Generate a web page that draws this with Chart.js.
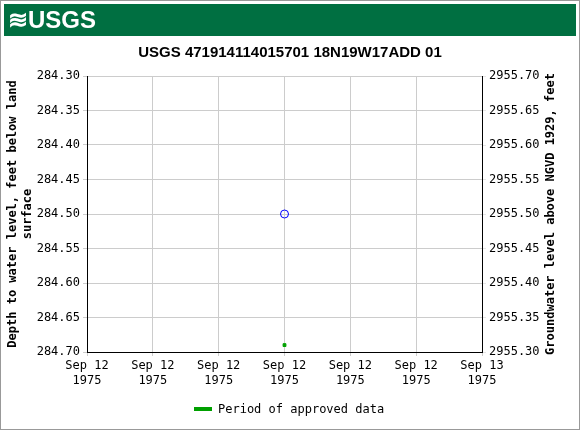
<!DOCTYPE html>
<html><head><meta charset="utf-8">
<script src="https://cdn.jsdelivr.net/npm/chart.js@4/dist/chart.umd.min.js"></script>
<style>html,body{margin:0;padding:0;background:#fff}#w{width:580px;height:430px;position:relative}</style>
</head><body><div id="w"><canvas id="c" width="580" height="430"></canvas></div>
<script>
const titleText = "USGS 471914114015701 18N19W17ADD 01";
const xTickLabels = [["Sep 12","1975"],["Sep 12","1975"],["Sep 12","1975"],["Sep 12","1975"],["Sep 12","1975"],["Sep 12","1975"],["Sep 13","1975"]];
const pointX = [3];
const depthValues = [284.50];
const approvedX = [3];
const approvedY = [284.69];
const leftRange = [284.30, 284.70];
const rightRange = [2955.30, 2955.70];
const legendLabel = "Period of approved data";
const rightTitle = "Groundwater level above NGVD 1929, feet";
const mono = "'DejaVu Sans Mono', monospace";

const deco = {
  id:'deco',
  beforeDraw(ch){
    const c = ch.ctx; c.save();
    c.fillStyle='#fff'; c.fillRect(0,0,580,430);
    c.fillStyle='#006f41'; c.fillRect(4,4,572,32);
    c.fillStyle='#fff'; c.font="bold 24px 'Liberation Sans', Arial"; c.textBaseline='middle';
    c.fillText("≋USGS",8,21);
    c.fillStyle='#000'; c.font="bold 15px 'Liberation Sans', Arial"; c.textAlign='center';
    c.fillText(titleText,290,53);
    c.strokeStyle='#999'; c.lineWidth=1; c.strokeRect(0.5,0.5,579,429);
    c.restore();
  },
  afterDraw(ch){
    const c = ch.ctx; c.save();
    c.fillStyle='#00a000'; c.fillRect(194,407,18,4);
    c.fillStyle='#000'; c.font="12px "+mono; c.textBaseline='middle';
    c.fillText(legendLabel,218,410);
    c.translate(551,214); c.rotate(-Math.PI/2);
    c.font="bold 12px "+mono; c.textAlign='center';
    c.fillText(rightTitle,0,0);
    c.restore();
  }
};

new Chart(document.getElementById('c'),{
  type:'scatter',
  data:{datasets:[
    {data:pointX.map((x,i)=>({x,y:depthValues[i]})),pointStyle:'circle',pointRadius:4,borderColor:'#0000ff',backgroundColor:'rgba(0,0,0,0)',borderWidth:1,yAxisID:'y'},
    {data:approvedX.map((x,i)=>({x,y:approvedY[i]})),pointStyle:'rect',pointRadius:2,borderColor:'#00a000',backgroundColor:'#00a000',yAxisID:'y'}
  ]},
  options:{
    responsive:false,animation:false,
    layout:{padding:{top:76,bottom:38,left:6,right:6}},
    plugins:{legend:{display:false},tooltip:{enabled:false}},
    scales:{
      x:{type:'linear',min:0,max:6,
        grid:{color:'#cccccc',tickLength:4},border:{color:'#000'},
        ticks:{stepSize:1,autoSkip:false,maxRotation:0,color:'#000',font:{family:mono,size:12},callback:(v)=>xTickLabels[v]},
        afterFit(s){s.height=40;}},
      y:{position:'left',reverse:true,min:leftRange[0],max:leftRange[1],
        grid:{color:'#cccccc',tickLength:4},border:{color:'#000'},
        ticks:{stepSize:0.05,color:'#000',font:{family:mono,size:12},callback:v=>v.toFixed(2)},
        title:{display:true,text:['Depth to water level, feet below land','surface'],color:'#000',font:{family:mono,size:12,weight:'bold'},padding:0},
        afterFit(s){s.width=81;}},
      y2:{position:'right',min:rightRange[0],max:rightRange[1],
        grid:{drawOnChartArea:false,tickLength:4},border:{color:'#000'},
        ticks:{stepSize:0.05,color:'#000',font:{family:mono,size:12},callback:v=>v.toFixed(2)},
        afterFit(s){s.width=92;}}
    }
  },
  plugins:[deco]
});
</script></body></html>
